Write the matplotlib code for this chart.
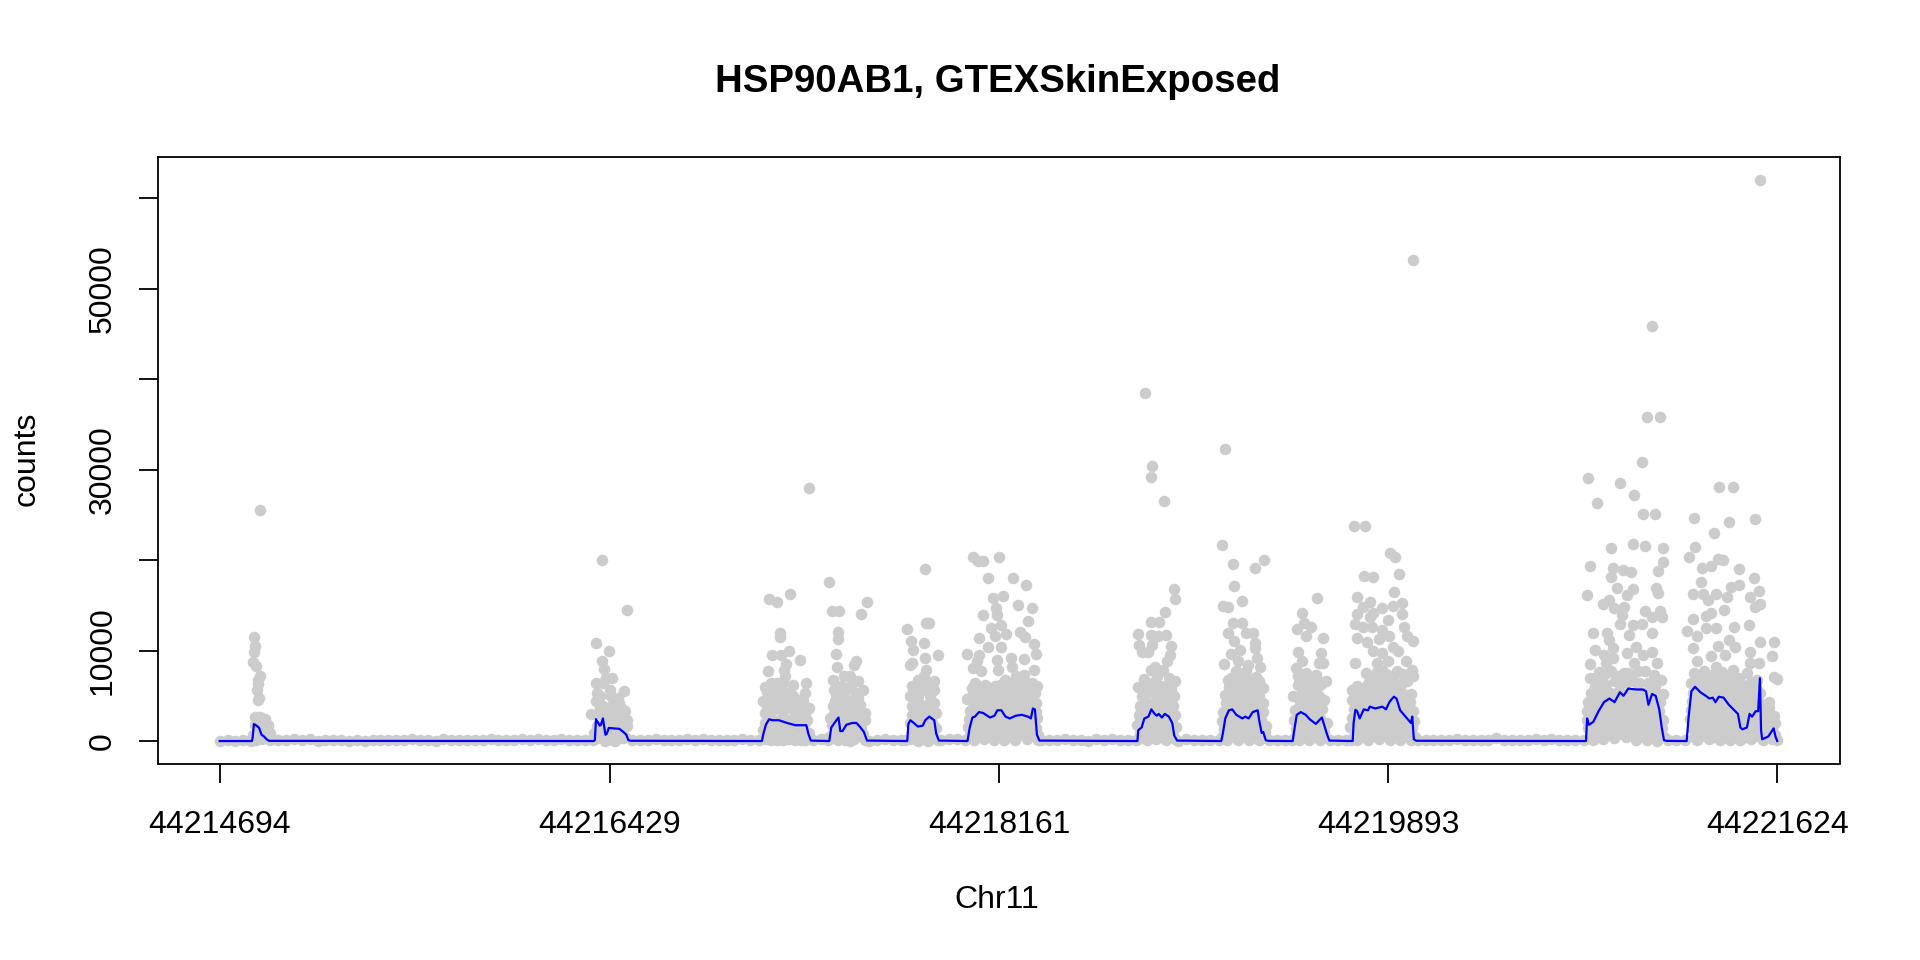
import matplotlib
matplotlib.use('Agg')
import matplotlib.pyplot as plt

plt.rcParams['font.family'] = ['Liberation Sans', 'DejaVu Sans']

START = 44214694
x_ticks = [44214694, 44216429, 44218161, 44219893, 44221624]
y_ticks = [0, 10000, 20000, 30000, 40000, 50000, 60000]
y_tick_labels = ['0', '10000', '', '30000', '', '50000', '']

# grey points: (bp offset from START, counts), one list per block
introns = [(0, 30), (35, 60), (70, 20), (105, 90), (140, 40), (225, 60), (260, 150), (295, 60), (330, 280), (365, 100),
           (400, 250), (435, 50), (470, 120), (505, 80), (540, 90), (575, 40), (610, 110), (645, 50), (680, 130),
           (715, 70), (750, 60), (785, 140), (820, 90), (855, 260), (890, 70), (925, 130), (960, 50), (995, 180),
           (1030, 70), (1065, 110), (1100, 60), (1135, 160), (1170, 80), (1205, 200), (1240, 90), (1275, 120),
           (1310, 70), (1345, 220), (1380, 90), (1415, 210), (1450, 60), (1485, 120), (1520, 190), (1555, 70),
           (1590, 140), (1625, 60), (1660, 90), (1835, 80), (1870, 120), (1905, 60), (1940, 180), (1975, 90),
           (2010, 110), (2045, 60), (2080, 170), (2115, 80), (2150, 240), (2185, 90), (2220, 150), (2255, 70),
           (2290, 110), (2325, 170), (2360, 60), (2400, 90), (2640, 60), (2675, 280), (2705, 80), (2890, 50),
           (2925, 120), (2960, 200), (2995, 60), (3030, 150), (3050, 90), (3210, 60), (3245, 180), (3280, 240),
           (3315, 90), (3655, 60), (3690, 120), (3725, 80), (3760, 230), (3795, 70), (3830, 120), (3865, 50),
           (3900, 190), (3935, 70), (3970, 280), (4005, 90), (4040, 60), (4075, 80), (4265, 40), (4300, 220),
           (4335, 60), (4370, 120), (4405, 80), (4445, 60), (4670, 70), (4705, 120), (4740, 60), (4770, 90),
           (4940, 60), (4975, 130), (5010, 70), (5035, 100), (5330, 60), (5365, 150), (5400, 70), (5435, 130),
           (5470, 60), (5505, 280), (5540, 80), (5575, 140), (5610, 60), (5645, 110), (5680, 300), (5715, 70),
           (5750, 100), (5785, 60), (5820, 130), (5855, 220), (5890, 70), (5925, 280), (5960, 110), (5995, 60),
           (6030, 90), (6070, 70), (6445, 70), (6480, 110), (6520, 80)]

exon1 = [(179, 25600), (152, 11550), (159, 10560), (152, 9900), (148, 8760), (163, 8320), (181, 7180), (170, 6770),
         (170, 6330), (166, 5670), (170, 4560), (175, 4750), (157, 2650), (170, 2700), (179, 2650), (203, 2430),
         (215, 1730), (206, 1250), (224, 880), (155, 1800), (165, 1200), (185, 1800), (195, 1000), (150, 700),
         (175, 500), (160, 100), (190, 200), (212, 350)]
exon2 = [(1703, 19980), (1814, 14460), (1674, 10820), (1731, 9940), (1703, 8900), (1709, 7950), (1745, 6990),
         (1720, 6950), (1676, 6400), (1705, 6400), (1798, 5560), (1736, 5670), (1678, 5300), (1741, 4930),
         (1774, 4750), (1672, 4450), (1705, 3900), (1778, 4200), (1654, 3020), (1696, 2980), (1760, 3640),
         (1805, 3280), (1814, 2350), (1751, 2900), (1787, 2540), (1742, 2000), (1810, 1620), (1678, 1620),
         (1723, 880), (1778, 880), (1696, 500), (1665, 880), (1796, 330), (1715, 0), (1760, 0), (1690, 5000),
         (1750, 4100), (1770, 3300), (1795, 2800), (1700, 1800), (1725, 2300), (1770, 1700), (1790, 1100),
         (1740, 1000), (1680, 300), (1745, 150), (1805, 500)]
exon3 = [(2622, 27970), (2446, 15710), (2479, 15380), (2537, 16230), (2492, 11920), (2495, 11480), (2457, 9530),
         (2497, 9530), (2533, 9970), (2583, 8940), (2441, 7690), (2521, 8500), (2510, 7880), (2515, 7140),
         (2610, 6400), (2424, 5960), (2452, 6400), (2479, 6400), (2506, 6400), (2552, 6220), (2602, 5300),
         (2419, 4380), (2452, 5300), (2488, 5300), (2533, 5300), (2470, 4380), (2506, 4380), (2597, 4380),
         (2424, 3090), (2461, 3460), (2506, 3280), (2552, 3830), (2588, 3640), (2621, 3640), (2424, 1990),
         (2470, 2170), (2524, 2360), (2570, 2540), (2615, 2360), (2434, 880), (2488, 1070), (2543, 1250),
         (2597, 1070), (2624, 880), (2452, 150), (2506, 150), (2561, 70), (2606, 150), (2440, 4700), (2530, 4300),
         (2500, 2500), (2445, 2600), (2580, 2800), (2465, 1000), (2520, 1300), (2570, 1300), (2415, 1200),
         (2430, 200), (2480, 100), (2535, 200), (2585, 120), (2558, 3000), (2600, 2800)]
exon4 = [(2712, 17590), (2722, 14390), (2755, 14430), (2750, 12110), (2753, 11260), (2879, 15420), (2851, 14090),
         (2742, 9600), (2833, 8800), (2824, 8430), (2746, 8240), (2728, 6770), (2779, 7140), (2806, 7140),
         (2842, 6590), (2860, 5670), (2733, 5670), (2788, 5670), (2833, 5300), (2739, 4380), (2815, 4560),
         (2788, 4560), (2870, 3090), (2715, 2540), (2742, 3280), (2779, 3090), (2824, 3460), (2870, 2350),
         (2724, 1800), (2770, 1990), (2815, 1800), (2851, 1430), (2724, 700), (2779, 700), (2833, 500), (2870, 150),
         (2751, 150), (2806, 0), (2850, 4000), (2760, 3800), (2800, 3700), (2760, 1000), (2800, 1000), (2845, 2400),
         (2745, 2000), (2855, 3200), (2735, 3000), (2738, 300), (2782, 100), (2820, 200), (2712, 400), (2860, 800)]
exon5 = [(3139, 18990), (3059, 12360), (3075, 11110), (3142, 13100), (3155, 13100), (3133, 10820), (3086, 10080),
         (3195, 9490), (3137, 9160), (3082, 8680), (3069, 8430), (3142, 7880), (3133, 7140), (3179, 6590),
         (3106, 6770), (3079, 6040), (3151, 6400), (3179, 5670), (3124, 5850), (3069, 4930), (3106, 4930),
         (3160, 4930), (3079, 3830), (3124, 4010), (3179, 4200), (3079, 2900), (3142, 3460), (3188, 3090),
         (3069, 1990), (3115, 2170), (3169, 1990), (3188, 1430), (3079, 880), (3133, 880), (3179, 500), (3106, 0),
         (3151, 0), (3105, 3000), (3100, 1500), (3160, 2700), (3145, 1200), (3070, 200), (3125, 200), (3195, 150)]
exon6 = [(3351, 20390), (3375, 19950), (3398, 19950), (3466, 20310), (3417, 18000), (3531, 18030), (3589, 17300),
         (3442, 15860), (3484, 16080), (3551, 15010), (3615, 14720), (3455, 14680), (3460, 13950), (3397, 13910),
         (3596, 13320), (3478, 12840), (3433, 12480), (3560, 12110), (3451, 11670), (3500, 11810), (3582, 11480),
         (3378, 11410), (3625, 10780), (3420, 10380), (3477, 10450), (3326, 9680), (3378, 9530), (3631, 9600),
         (3578, 9090), (3460, 8980), (3520, 9160), (3369, 8800), (3351, 8130), (3464, 7880), (3524, 8240),
         (3624, 7880), (3387, 7690), (3578, 7320), (3542, 7140), (3496, 6770), (3360, 6400), (3406, 6220),
         (3451, 6040), (3615, 6400), (3569, 6400), (3524, 6400), (3351, 5300), (3397, 5300), (3442, 5300),
         (3487, 5480), (3533, 5300), (3578, 5300), (3629, 5300), (3327, 4640), (3369, 4380), (3415, 4380),
         (3460, 4560), (3506, 4380), (3551, 4380), (3596, 4380), (3633, 4200), (3340, 3300), (3380, 3450),
         (3420, 3250), (3465, 3400), (3505, 3300), (3545, 3450), (3590, 3300), (3630, 3200), (3335, 2400),
         (3375, 2300), (3415, 2500), (3460, 2350), (3500, 2500), (3540, 2300), (3585, 2400), (3635, 2500),
         (3330, 1500), (3370, 1600), (3410, 1400), (3455, 1600), (3495, 1500), (3535, 1600), (3580, 1500),
         (3630, 1400), (3340, 700), (3385, 800), (3430, 600), (3475, 800), (3520, 650), (3565, 800), (3610, 650),
         (3640, 700), (3355, 100), (3400, 200), (3445, 80), (3490, 150), (3540, 100), (3590, 200), (3640, 150)]
exon7 = [(4116, 38475), (4149, 30375), (4143, 29160), (4203, 26595), (4245, 16820), (4252, 15710), (4205, 14320),
         (4142, 13210), (4178, 13210), (4142, 11740), (4087, 11850), (4174, 11630), (4210, 11740), (4091, 10640),
         (4147, 10640), (4232, 10560), (4105, 9830), (4132, 9830), (4229, 9460), (4214, 8870), (4160, 8240),
         (4142, 7880), (4196, 7880), (4111, 6880), (4169, 7140), (4223, 6950), (4251, 6660), (4087, 5960),
         (4132, 6040), (4187, 6040), (4232, 5850), (4105, 4930), (4160, 5120), (4214, 4930), (4247, 4930),
         (4096, 3830), (4142, 4010), (4196, 4010), (4241, 3830), (4090, 2900), (4125, 3000), (4170, 3000),
         (4210, 3100), (4250, 2900), (4080, 1800), (4115, 2000), (4155, 2000), (4195, 1900), (4235, 2000),
         (4255, 1500), (4095, 900), (4135, 1000), (4175, 900), (4220, 1000), (4085, 200), (4125, 100), (4165, 200),
         (4210, 100), (4250, 200)]
exon8 = [(4471, 32265), (4458, 21710), (4509, 19580), (4605, 19100), (4648, 20060), (4512, 17110), (4550, 15490),
         (4465, 14940), (4487, 14870), (4509, 13100), (4547, 13100), (4487, 11920), (4568, 11920), (4596, 11920),
         (4514, 11080), (4605, 10820), (4607, 10340), (4538, 10080), (4500, 9640), (4614, 9160), (4529, 8870),
         (4470, 8570), (4574, 8430), (4628, 8240), (4523, 7690), (4568, 7690), (4487, 6770), (4541, 6770),
         (4623, 6590), (4505, 5850), (4587, 6040), (4641, 5850), (4472, 5120), (4523, 5120), (4568, 4930),
         (4623, 4930), (4478, 4200), (4532, 4010), (4596, 4200), (4641, 4200), (4465, 3200), (4505, 3300),
         (4550, 3100), (4595, 3250), (4640, 3200), (4460, 2200), (4500, 2400), (4545, 2200), (4590, 2400),
         (4635, 2300), (4655, 1700), (4470, 1300), (4515, 1200), (4560, 1400), (4610, 1300), (4650, 1000),
         (4460, 500), (4505, 600), (4550, 500), (4600, 600), (4655, 300), (4480, 100), (4530, 150), (4580, 80),
         (4625, 100)]
exon9 = [(4883, 15860), (4817, 14130), (4825, 13030), (4854, 12660), (4792, 12360), (4832, 11560), (4907, 11440),
         (4799, 9830), (4899, 9720), (4814, 8800), (4890, 8680), (4908, 8680), (4787, 8060), (4796, 7140),
         (4832, 7510), (4877, 7320), (4923, 6590), (4796, 6220), (4850, 6400), (4896, 6220), (4777, 5000),
         (4823, 5300), (4868, 5300), (4914, 4490), (4805, 4380), (4850, 4380), (4880, 4100), (4785, 3400),
         (4825, 3300), (4865, 3200), (4905, 3500), (4780, 2300), (4815, 2400), (4855, 2200), (4895, 2400),
         (4925, 2000), (4790, 1300), (4830, 1200), (4870, 1300), (4915, 1100), (4785, 500), (4825, 500), (4870, 400),
         (4915, 500), (4800, 100), (4845, 80), (4895, 100)]
exon10 = [(5046, 23740), (5095, 23740), (5208, 20830), (5228, 20390), (5093, 18220), (5133, 18180), (5249, 18470),
          (5224, 16450), (5058, 15970), (5117, 15420), (5085, 14870), (5260, 15240), (5173, 14680), (5220, 14940),
          (5058, 14020), (5133, 14200), (5117, 13760), (5260, 14020), (5197, 13400), (5053, 12950), (5085, 12660),
          (5125, 12660), (5268, 12590), (5173, 12290), (5058, 11440), (5104, 11000), (5157, 11260), (5204, 11560),
          (5284, 11560), (5309, 11110), (5133, 9970), (5244, 9970), (5173, 9720), (5220, 10450), (5279, 8830),
          (5053, 8610), (5149, 8610), (5197, 8800), (5305, 7880), (5101, 7510), (5173, 7880), (5236, 7690),
          (5308, 7140), (5149, 6770), (5204, 6770), (5284, 6590), (5038, 5670), (5085, 5850), (5300, 5230),
          (5181, 5670), (5133, 5670), (5236, 5670), (5038, 4560), (5085, 4750), (5120, 4600), (5165, 4700),
          (5210, 4600), (5255, 4800), (5295, 4300), (5045, 3500), (5090, 3600), (5135, 3400), (5180, 3600),
          (5225, 3400), (5270, 3600), (5310, 3300), (5040, 2500), (5085, 2600), (5130, 2400), (5175, 2600),
          (5220, 2500), (5265, 2500), (5312, 2200), (5030, 1500), (5075, 1600), (5120, 1400), (5165, 1600),
          (5210, 1500), (5255, 1600), (5305, 1400), (5045, 600), (5090, 700), (5135, 600), (5180, 700), (5225, 600),
          (5270, 700), (5318, 500), (5060, 100), (5110, 150), (5160, 200), (5205, 100), (5250, 150), (5300, 100)]
exon11 = [(5310, 53180), (6089, 29110), (6129, 26300), (6232, 28520), (6294, 27200), (6329, 30840), (6334, 25130),
          (6388, 25130), (6373, 45950), (6351, 35800), (6410, 35800), (6192, 21340), (6289, 21750), (6340, 21560),
          (6422, 21340), (6421, 19840), (6095, 19360), (6198, 19170), (6243, 18920), (6281, 18730), (6400, 18800),
          (6190, 18100), (6219, 16930), (6286, 16780), (6262, 16160), (6389, 16960), (6400, 16410), (6085, 16160),
          (6182, 15600), (6155, 15120), (6203, 14720), (6246, 14870), (6341, 14390), (6410, 14390), (6238, 13950),
          (6373, 13760), (6416, 13690), (6230, 12920), (6286, 12840), (6330, 12920), (6111, 11920), (6171, 11920),
          (6270, 11740), (6373, 11920), (6182, 11190), (6198, 10270), (6119, 10080), (6302, 10450), (6373, 9900),
          (6158, 9530), (6262, 9720), (6333, 9530), (6198, 9160), (6095, 8500), (6166, 8680), (6397, 8610),
          (6294, 8610), (6135, 7580), (6190, 7690), (6246, 7510), (6341, 7690), (6095, 6950), (6413, 6770),
          (6151, 6400), (6206, 6590), (6286, 6590), (6357, 6400), (6103, 5300), (6145, 5400), (6185, 5300),
          (6225, 5500), (6265, 5300), (6305, 5500), (6345, 5300), (6385, 5400), (6420, 5200), (6090, 4300),
          (6130, 4400), (6170, 4300), (6210, 4400), (6250, 4300), (6290, 4500), (6330, 4300), (6370, 4400),
          (6410, 4300), (6085, 3300), (6125, 3400), (6165, 3300), (6205, 3400), (6245, 3300), (6285, 3400),
          (6325, 3300), (6365, 3400), (6405, 3300), (6085, 2300), (6125, 2400), (6165, 2300), (6205, 2400),
          (6245, 2300), (6285, 2400), (6325, 2300), (6365, 2400), (6420, 2300), (6090, 1400), (6130, 1500),
          (6170, 1400), (6210, 1500), (6250, 1400), (6290, 1500), (6330, 1400), (6370, 1500), (6415, 1400),
          (6100, 600), (6140, 700), (6180, 800), (6220, 800), (6260, 700), (6300, 800), (6340, 500), (6385, 400),
          (6425, 500), (6110, 100), (6155, 200), (6205, 300), (6255, 400), (6300, 100), (6350, 100), (6395, 50)]
exon12 = [(6854, 62020), (6672, 28120), (6735, 28040), (6559, 24690), (6717, 24210), (6833, 24510), (6647, 23040),
          (6564, 21490), (6539, 20390), (6667, 20130), (6688, 19980), (6593, 19170), (6635, 19360), (6760, 18990),
          (6828, 18070), (6591, 17590), (6723, 17080), (6758, 17220), (6847, 16600), (6553, 16230), (6601, 16270),
          (6656, 16270), (6810, 15970), (6620, 15600), (6707, 15900), (6853, 15160), (6829, 14790), (6693, 14500),
          (6635, 14130), (6612, 13840), (6556, 13470), (6806, 12840), (6739, 12660), (6529, 12220), (6612, 12480),
          (6659, 12480), (6572, 11560), (6715, 11190), (6855, 11000), (6915, 11000), (6556, 10270), (6743, 10450),
          (6667, 10560), (6807, 9900), (6907, 9350), (6635, 9420), (6699, 9530), (6572, 8800), (6810, 8680),
          (6850, 8610), (6914, 7030), (6927, 6880), (6659, 8240), (6731, 7880), (6795, 7510), (6548, 6400),
          (6612, 7140), (6699, 7140), (6755, 6040), (6842, 6770), (6893, 4270), (6585, 6200), (6650, 6300),
          (6790, 6100), (6555, 5300), (6595, 5400), (6640, 5300), (6685, 5500), (6725, 5300), (6770, 5300),
          (6815, 5500), (6855, 5300), (6550, 4400), (6590, 4300), (6630, 4500), (6675, 4300), (6715, 4400),
          (6760, 4300), (6805, 4400), (6850, 4300), (6895, 3600), (6545, 3400), (6585, 3300), (6625, 3400),
          (6670, 3300), (6710, 3400), (6755, 3300), (6800, 3400), (6845, 3300), (6890, 2900), (6915, 2800),
          (6540, 2400), (6580, 2300), (6620, 2400), (6665, 2300), (6705, 2400), (6750, 2300), (6795, 2400),
          (6840, 2300), (6885, 2100), (6920, 2000), (6550, 1400), (6595, 1500), (6640, 1400), (6685, 1500),
          (6730, 1400), (6775, 1500), (6820, 1400), (6865, 1500), (6905, 1300), (6560, 500), (6605, 600),
          (6650, 500), (6695, 600), (6740, 500), (6785, 400), (6835, 600), (6880, 500), (6922, 700), (6575, 100),
          (6625, 200), (6675, 100), (6720, 150), (6765, 100), (6815, 200), (6865, 100), (6905, 200), (6930, 100)]
# the packed lower part of each block, between the readable dots above
packed_low = [(1690, 3600), (1725, 3500), (1755, 3200), (1785, 3700), (1690, 1100), (1720, 1600), (1760, 1100),
              (2435, 5400), (2470, 5600), (2500, 5500), (2520, 4800), (2550, 5000), (2575, 4500), (2435, 3700),
              (2485, 3800), (2530, 3600), (2575, 3300), (2605, 3100), (2440, 1700), (2490, 1900), (2545, 2000),
              (2600, 1800), (2740, 5200), (2765, 6100), (2810, 6200), (2770, 4900), (2840, 4800), (2730, 3900),
              (2765, 3500), (2795, 2700), (2840, 2900), (2760, 2400), (2790, 1700), (2745, 1200), (2835, 1200),
              (3090, 5800), (3110, 5600), (3150, 5500), (3170, 6100), (3095, 4200), (3150, 4000), (3095, 2600),
              (3130, 2400), (3170, 3200), (3100, 800), (3155, 1900), (3090, 1200), (3345, 5900), (3380, 5900),
              (3425, 5900), (3470, 6200), (3500, 5900), (3550, 5800), (3600, 5800), (3635, 6100), (3345, 4400),
              (3395, 4900), (3440, 4800), (3485, 4700), (3525, 4800), (3570, 4800), (3615, 4900), (3360, 3900),
              (3400, 3900), (3445, 3800), (3485, 3800), (3530, 3900), (3575, 3800), (3610, 3800), (3355, 2800),
              (3395, 2900), (3440, 2900), (3480, 2800), (3520, 2900), (3565, 2800), (3610, 2900), (3355, 1900),
              (3395, 1900), (3435, 2000), (3480, 1900), (3520, 2000), (3560, 1900), (3610, 2000), (3350, 1100),
              (3395, 1100), (3440, 1100), (3485, 1100), (3530, 1100), (3575, 1100), (3620, 1000), (4105, 6100),
              (4155, 6500), (4170, 6100), (4210, 6000), (4120, 5400), (4185, 5100), (4235, 5200), (4115, 4400),
              (4165, 4300), (4215, 4200), (4110, 3400), (4150, 3500), (4190, 3400), (4230, 3300), (4100, 2400),
              (4140, 2500), (4175, 2500), (4220, 2500), (4105, 1500), (4145, 1500), (4185, 1400), (4225, 1500),
              (4115, 500), (4155, 600), (4195, 500), (4240, 600), (4500, 7000), (4525, 6800), (4560, 6900),
              (4590, 6700), (4610, 7100), (4490, 6000), (4530, 6100), (4560, 6000), (4610, 6000), (4490, 5200),
              (4545, 5400), (4590, 5300), (4500, 4500), (4555, 4400), (4615, 4500), (4480, 3700), (4525, 3700),
              (4570, 3800), (4615, 3700), (4480, 2700), (4525, 2800), (4570, 2800), (4615, 2800), (4485, 1800),
              (4530, 1800), (4575, 1900), (4620, 1800), (4485, 900), (4530, 800), (4580, 900), (4625, 800),
              (4805, 6700), (4830, 6600), (4860, 6700), (4885, 6600), (4905, 6400), (4815, 5800), (4860, 5800),
              (4800, 4900), (4845, 4900), (4890, 5000), (4800, 3800), (4840, 3800), (4885, 3900), (4800, 2900),
              (4845, 2800), (4885, 2900), (4800, 1800), (4845, 1800), (4890, 1800), (4810, 800), (4850, 900),
              (4890, 800), (5115, 7200), (5150, 7600), (5190, 7400), (5220, 7200), (5265, 7400), (5060, 6100),
              (5110, 6300), (5165, 6100), (5185, 6400), (5220, 6300), (5260, 6400), (5060, 5200), (5110, 5200),
              (5155, 5200), (5205, 5200), (5260, 5300), (5060, 4100), (5105, 4100), (5145, 4100), (5190, 4100),
              (5235, 4100), (5280, 4000), (5065, 3000), (5110, 3000), (5155, 3000), (5200, 3000), (5245, 3000),
              (5290, 3000), (5060, 2000), (5105, 2000), (5150, 2000), (5195, 2000), (5240, 2000), (5285, 2000),
              (5055, 1100), (5100, 1100), (5145, 1100), (5190, 1100), (5235, 1100), (5280, 1100), (6120, 7000),
              (6165, 7400), (6225, 7200), (6265, 7500), (6310, 7800), (6380, 7300), (6120, 6100), (6170, 6200),
              (6230, 6300), (6260, 6500), (6315, 6400), (6385, 6100), (6115, 4900), (6165, 4900), (6205, 4900),
              (6245, 4900), (6285, 5000), (6325, 4900), (6365, 4900), (6405, 4900), (6110, 3800), (6150, 3900),
              (6190, 3900), (6230, 3800), (6270, 3900), (6310, 3800), (6350, 3900), (6390, 3800), (6105, 2800),
              (6145, 2900), (6185, 2800), (6225, 2900), (6265, 2800), (6305, 2900), (6345, 2800), (6385, 2900),
              (6105, 1900), (6145, 1900), (6185, 1900), (6225, 1900), (6265, 1900), (6305, 1900), (6345, 1900),
              (6390, 1900), (6115, 1000), (6160, 1100), (6200, 1100), (6240, 1100), (6280, 1100), (6320, 1100),
              (6360, 1000), (6400, 900), (6560, 7500), (6605, 7700), (6640, 7300), (6685, 7600), (6760, 7000),
              (6575, 6700), (6625, 6700), (6670, 6800), (6720, 6800), (6775, 6200), (6815, 6500), (6570, 5800),
              (6615, 5900), (6665, 5900), (6705, 6000), (6750, 5200), (6835, 5900), (6570, 4900), (6610, 4900),
              (6655, 4900), (6695, 4900), (6740, 4800), (6785, 4900), (6830, 4800), (6565, 3900), (6605, 3900),
              (6650, 3800), (6695, 3900), (6735, 3800), (6780, 3900), (6825, 3800), (6870, 4000), (6565, 2900),
              (6605, 2800), (6645, 2900), (6690, 2800), (6730, 2900), (6775, 2800), (6820, 2800), (6865, 2500),
              (6560, 1900), (6600, 1900), (6645, 1900), (6685, 1900), (6730, 1900), (6770, 1900), (6815, 1900),
              (6860, 1900), (6900, 2400), (6570, 1000), (6615, 1000), (6660, 1000), (6705, 1000), (6750, 1000),
              (6795, 1000), (6845, 1000), (6890, 1000)]
blocks = [introns, exon1, exon2, exon3, exon4, exon5, exon6, exon7, exon8, exon9, exon10, exon11, exon12, packed_low]

# blue mean coverage
mean_offsets = [0, 143, 146, 152, 164, 175, 186, 197, 208, 219, 1665, 1669, 1674, 1691, 1696, 1705, 1711, 1716, 1722,
                1731, 1751, 1778, 1796, 1809, 1818, 1829, 2412, 2419, 2430, 2444, 2461, 2488, 2524, 2561, 2610, 2619,
                2630, 2712, 2721, 2735, 2753, 2761, 2771, 2788, 2815, 2833, 2851, 2866, 2880, 3059, 3064, 3073, 3088,
                3106, 3128, 3139, 3157, 3179, 3188, 3200, 3327, 3337, 3349, 3360, 3378, 3397, 3427, 3447, 3460, 3478,
                3496, 3515, 3542, 3569, 3596, 3609, 3618, 3627, 3636, 3647, 4083, 4087, 4102, 4114, 4132, 4145, 4160,
                4169, 4178, 4192, 4205, 4223, 4238, 4247, 4260, 4456, 4463, 4474, 4490, 4505, 4523, 4550, 4563, 4578,
                4596, 4618, 4627, 4636, 4643, 4654, 4665, 4774, 4781, 4792, 4810, 4832, 4850, 4877, 4904, 4914, 4926,
                4937, 5041, 5045, 5053, 5061, 5072, 5090, 5109, 5117, 5141, 5173, 5189, 5204, 5224, 5236, 5252, 5276,
                5300, 5306, 5313, 5324, 6079, 6084, 6092, 6111, 6135, 6159, 6183, 6206, 6230, 6246, 6267, 6302, 6333,
                6346, 6357, 6373, 6389, 6405, 6416, 6426, 6437, 6527, 6535, 6548, 6564, 6588, 6612, 6628, 6643, 6655,
                6670, 6691, 6715, 6739, 6755, 6766, 6775, 6795, 6807, 6818, 6834, 6845, 6853, 6858, 6863, 6890, 6914,
                6922, 6930]
mean_counts = [0, 0, 300, 1877, 1700, 1450, 700, 500, 200, 20, 0, 100, 2430, 1700, 1800, 2500, 1500, 700, 800, 1450,
               1400, 1350, 1000, 700, 100, 30, 0, 800, 1800, 2400, 2300, 2300, 2000, 1750, 1750, 800, 50, 0, 1500,
               2000, 2600, 1100, 1100, 1800, 2000, 2000, 1500, 1000, 50, 0, 1900, 2300, 2000, 1600, 1700, 2300, 2700,
               2300, 800, 50, 0, 1500, 2600, 2700, 3200, 3100, 2600, 2800, 3400, 3400, 2700, 2500, 2800, 2900, 2700,
               2500, 3600, 3500, 700, 50, 0, 1200, 1500, 2500, 2700, 3500, 3000, 2800, 3000, 2600, 3000, 2700, 2000,
               600, 50, 0, 800, 2500, 3400, 3500, 2900, 2500, 2700, 2500, 3200, 3400, 2000, 900, 1000, 100, 20, 0,
               1200, 2900, 3200, 2900, 2400, 1900, 2600, 1800, 800, 50, 0, 2000, 3460, 3300, 2500, 3500, 3400, 3800,
               3600, 3800, 3500, 4300, 4900, 4700, 3400, 2700, 2000, 2700, 200, 30, 0, 2500, 1800, 2100, 3300, 4300,
               4700, 4300, 5400, 5000, 5800, 5700, 5700, 5500, 4000, 5200, 5000, 3500, 1500, 100, 20, 0, 2500, 5500,
               6000, 5400, 5000, 4700, 4800, 4300, 4900, 4800, 4000, 3400, 3000, 1500, 1300, 1500, 3000, 2700, 3300,
               3300, 6950, 1200, 200, 500, 1400, 500, 0]


def main():
    fig = plt.figure(figsize=(19.2, 9.6), dpi=100)
    ax = fig.add_axes([157.5 / 1920, 1 - 763.5 / 960, 1682 / 1920, 606.5 / 960])

    points = [p for block in blocks for p in block]
    ax.scatter([START + p[0] for p in points], [p[1] for p in points], s=69, color='#CCCCCC', linewidths=0)
    ax.plot([START + x for x in mean_offsets], mean_counts, color='#0000FF', lw=1.6, solid_joinstyle='round')

    ax.set_xlim(START - 277, 44221624 + 277)
    ax.set_ylim(-2484, 64584)
    ax.set_xticks(x_ticks)
    ax.set_xticklabels([str(t) for t in x_ticks])
    ax.set_yticks(y_ticks)
    ax.set_yticklabels(y_tick_labels, rotation=90, va='center')
    ax.tick_params(axis='x', length=13.7, width=1.3, labelsize=23, pad=19.5)
    ax.tick_params(axis='y', length=13.7, width=1.3, labelsize=23, pad=15)
    for spine in ax.spines.values():
        spine.set_linewidth(1.3)

    fig.text(998 / 1920, 1 - 82.5 / 960, 'HSP90AB1, GTEXSkinExposed', fontsize=27.6, fontweight='bold',
             ha='center', va='center')
    fig.text(997 / 1920, 1 - 900 / 960, 'Chr11', fontsize=23, ha='center', va='center')
    fig.text(27 / 1920, 1 - 459 / 960, 'counts', fontsize=23, rotation=90, ha='center', va='center')

    fig.savefig('out.png', dpi=100)


if __name__ == "__main__":
    main()
